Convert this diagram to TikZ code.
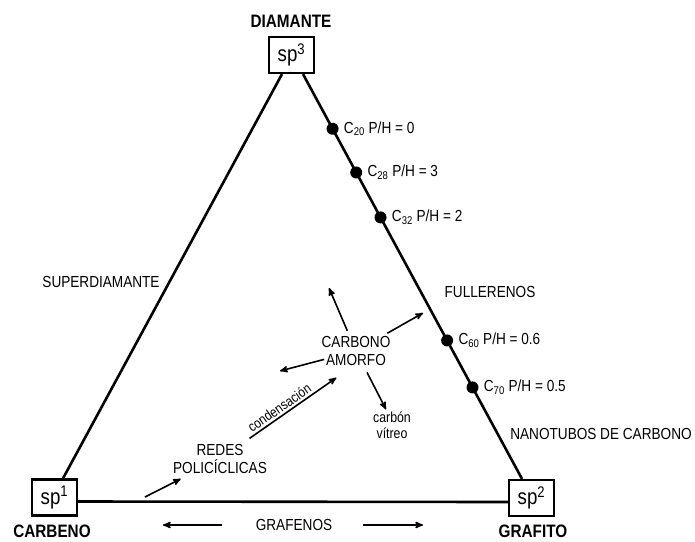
\documentclass[tikz,border=0pt]{standalone}
\usepackage{fontspec}
\setmainfont{Liberation Sans}[FakeStretch=0.85]
\usetikzlibrary{arrows, positioning}

\begin{document}
\begin{tikzpicture}[x=1pt, y=-1pt, >=stealth']
  \tikzset{
   hyb/.style={draw, line width=2.2pt, minimum width=45pt, minimum height=36pt, inner sep=0pt, font=\fontsize{22}{24}\selectfont},
   phase/.style={font=\fontsize{18}{20}\selectfont\bfseries},
   lbl/.style={font=\fontsize{16}{18}\selectfont, align=center, inner sep=2pt},
   small/.style={font=\fontsize{14.5}{16}\selectfont, align=center, inner sep=1pt},
   dot/.style={circle, fill, inner sep=0pt, minimum size=12pt},
   edge/.style={line width=2.6pt},
   arr/.style={->, line width=1.6pt},
  }
  \useasboundingbox (0,0) rectangle (695,541);

  % hybridisation corners
  \node [hyb] (sp3) at (291.5,55) {sp\textsuperscript{3}};
  \node [hyb] (sp1) at (54.5,497.5) {sp\textsuperscript{1}};
  \node [hyb] (sp2) at (531.5,498) {sp\textsuperscript{2}};
  \node [phase] (diamante) at (291,21) {DIAMANTE};
  \node [phase] (carbeno) at (52,531) {CARBENO};
  \node [phase] (grafito) at (533,531) {GRAFITO};

  \coordinate (tl) at ([xshift=-9.5pt]sp3.south);
  \coordinate (tr) at ([xshift=11.5pt]sp3.south);
  \coordinate (bl) at ([xshift=8.5pt]sp1.north);
  \coordinate (br) at ([xshift=-9.5pt]sp2.north);
  \draw [edge] (tl) -- (bl);
  \draw [edge] (tr) -- (br);
  \draw [edge] ([yshift=-4pt]sp1.east) -- ([yshift=-4pt]sp2.west);

  % clusters on the sp3-sp2 side
  \foreach \p/\n/\r in {.135/20/0, .243/28/3, .354/32/2, .658/60/0.6, .774/70/0.5} {
   \path (tr) -- (br) node [dot, pos=\p] (c\n) {};
   \node [lbl, right=3pt of c\n] (ph\n) {C\textsubscript{\n} P/H = \r};
  }

  \node [lbl] (superd) at (101,282) {SUPERDIAMANTE};
  \node [lbl] (fuller) at (490,292) {FULLERENOS};
  \node [lbl] (nanotub) at (601,434) {NANOTUBOS DE CARBONO};
  \node [lbl] (amorfo) at (356,351) {CARBONO\\AMORFO};
  \node [small] (vitreo) at (392,425) {carbón\\vítreo};
  \node [lbl] (redes) at (220,459) {REDES\\POLICÍCLICAS};
  \node [lbl] (grafenos) at (294,525) {GRAFENOS};

  \coordinate (up) at (329,288);
  \coordinate (ne) at (423,313);
  \coordinate (w) at (280,371);
  \coordinate (in) at (145,497);
  \coordinate (gl) at (163,525);
  \coordinate (gr) at (423,525);

  \draw [arr, shorten <=22pt] (amorfo.center) -- (up);
  \draw [arr, shorten <=36pt] (amorfo.center) -- (ne);
  \draw [arr, shorten <=33pt] (amorfo.center) -- (w);
  \draw [arr, shorten <=24pt] (amorfo.center) -- ([xshift=-6pt,yshift=1pt]vitreo.north);
  \draw [arr, shorten <=36pt, shorten >=24pt] (redes.center) -- ([yshift=-13pt]amorfo.center)
   node [sloped, above, pos=.47, font=\fontsize{14}{16}\selectfont, inner sep=2pt] {condensación};
  \draw [arr, shorten >=44pt] (in) -- (redes.center);
  \draw [arr, shorten <=32pt] (grafenos.west) -- (gl);
  \draw [arr, shorten <=29pt] (grafenos.east) -- (gr);
\end{tikzpicture}
\end{document}
